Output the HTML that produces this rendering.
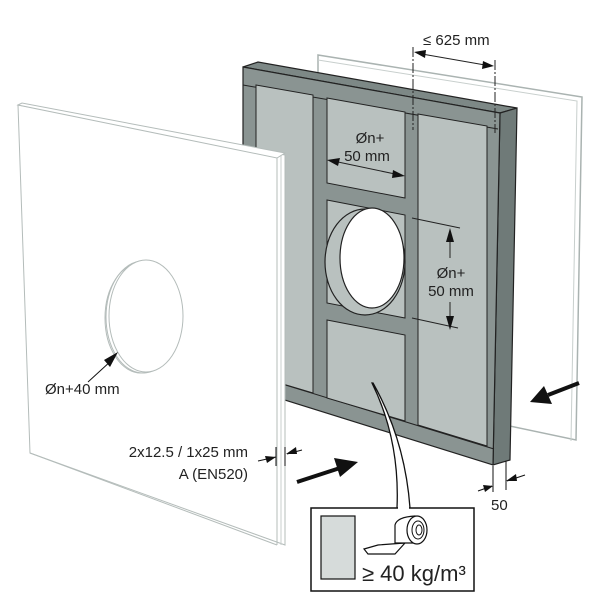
<!DOCTYPE html>
<html><head><meta charset="utf-8"><style>html,body{margin:0;padding:0;background:#fff}svg{display:block}text{font-family:"Liberation Sans",sans-serif;fill:#222}</style></head>
<body>
<svg width="600" height="600" viewBox="0 0 600 600" xmlns="http://www.w3.org/2000/svg">
<!-- back board -->
<polygon points="318,55 582,97 576,440 505,425 318,400" fill="#fff" stroke="#aab3b1" stroke-width="1.5"/>
<polyline points="318,60 577,101 571,441" fill="none" stroke="#c8cfcd" stroke-width="1"/>
<!-- frame -->
<polygon points="243,67 258,62 517,108 500,113" fill="#7d8886" stroke="#222" stroke-width="1.2"/>
<polygon points="500,113 517,108 510,460 493,465" fill="#6f7a78" stroke="#222" stroke-width="1.2"/>
<polygon points="243,67 500,113 493,465 243,387" fill="#8a9492" stroke="#222" stroke-width="1.2"/>
<line x1="243" y1="85" x2="498" y2="129" stroke="#222" stroke-width="1"/>
<line x1="243" y1="372" x2="494" y2="449" stroke="#222" stroke-width="1"/>
<g fill="#b9c1bf" stroke="#222" stroke-width="1">
<polygon points="256,85 313,95 313,393 256,376"/>
<polygon points="327,98 405,112 405,198 327,183"/>
<polygon points="327,200 405,215 405,318 327,303"/>
<polygon points="327,320 405,335 405,421 327,398"/>
<polygon points="418,114 487,126 487,446 418,425"/>
</g>
<ellipse cx="365" cy="262" rx="40" ry="53" fill="#b9c1bf" stroke="#222" stroke-width="1.2"/>
<ellipse cx="372" cy="258" rx="32" ry="50" fill="#fff" stroke="#222" stroke-width="1.2"/>
<!-- dims on frame -->
<g stroke="#222" stroke-width="1" fill="none">
<line x1="413" y1="47" x2="413" y2="130" stroke-dasharray="10,2,2,2"/>
<line x1="495" y1="60" x2="495" y2="133" stroke-dasharray="10,2,2,2"/>
<line x1="422" y1="54" x2="485" y2="65"/>
<line x1="338" y1="162" x2="395" y2="174"/>
<line x1="412" y1="218" x2="460" y2="228"/>
<line x1="412" y1="318" x2="458" y2="328"/>
<line x1="450" y1="240" x2="450" y2="258"/>
<line x1="450" y1="302" x2="450" y2="325"/>
</g>
<g fill="#111">
<polygon points="414,52 426,50 425,58"/>
<polygon points="494,66 483,61 482,69"/>
<polygon points="327,160 340,158 338,166"/>
<polygon points="405,176 393,170 392,178"/>
<polygon points="450,228 446,242 454,242"/>
<polygon points="450,330 446,316 454,316"/>
</g>
<text x="423" y="45" font-size="15">≤ 625 mm</text>
<text x="370" y="143" font-size="15" text-anchor="middle">Øn+</text>
<text x="367" y="161" font-size="15" text-anchor="middle">50 mm</text>
<text x="451" y="278" font-size="15" text-anchor="middle">Øn+</text>
<text x="451" y="296" font-size="15" text-anchor="middle">50 mm</text>
<!-- front board -->
<polygon points="18,105 285,155 285,545 30,453" fill="#fff" stroke="#b4bcba" stroke-width="1"/>
<polygon points="18,105 22,103 285,153 277,158" fill="#fff" stroke="#b4bcba" stroke-width="1"/>
<line x1="277" y1="158" x2="277" y2="545" stroke="#b4bcba"/>
<line x1="281" y1="156" x2="281" y2="545" stroke="#c8cfcd"/>
<line x1="30" y1="453" x2="277" y2="545" stroke="#b4bcba"/>
<ellipse cx="141" cy="318" rx="36" ry="55" fill="none" stroke="#b4bcba"/>
<ellipse cx="143" cy="317" rx="37" ry="56" fill="none" stroke="#b4bcba"/>
<ellipse cx="146" cy="316" rx="37" ry="56" fill="#fff" stroke="#b4bcba"/>
<!-- labels front -->
<line x1="88" y1="382" x2="112" y2="360" stroke="#111"/>
<polygon points="118,352 104,360 110,367" fill="#111"/>
<text x="45" y="394" font-size="15">Øn+40 mm</text>
<text x="248" y="457" font-size="15" text-anchor="end">2x12.5 / 1x25 mm</text>
<text x="248" y="479" font-size="15" text-anchor="end">A (EN520)</text>
<g stroke="#111" fill="none"><line x1="258" y1="461" x2="276" y2="457"/><line x1="287" y1="454" x2="302" y2="450"/><line x1="276" y1="447" x2="276" y2="466"/><line x1="285" y1="447" x2="285" y2="466"/>
<line x1="493" y1="466" x2="493" y2="492"/><line x1="506" y1="461" x2="506" y2="490"/><line x1="478" y1="491" x2="492" y2="486"/><line x1="507" y1="481" x2="525" y2="475"/></g>
<polygon points="276,457 265,456 267,463" fill="#111"/>
<polygon points="286,454 296,447 297,454" fill="#111"/>
<polygon points="493,486 483,485 485,492" fill="#111"/>
<polygon points="506,481 516,474 517,481" fill="#111"/>
<text x="491" y="510" font-size="15">50</text>
<!-- big arrows -->
<line x1="297" y1="482" x2="340" y2="468" stroke="#111" stroke-width="4"/>
<polygon points="358,462 334,458 340,477" fill="#111"/>
<line x1="579" y1="383" x2="548" y2="395" stroke="#111" stroke-width="4"/>
<polygon points="530,402 544,386 552,404" fill="#111"/>
<!-- callout -->
<path d="M372,383 Q400,440 397,508 L410,508 Q405,440 373,383 Z" fill="#fff" stroke="#111" stroke-width="1.3"/>
<rect x="311" y="508" width="163" height="83" fill="#fff" stroke="#111" stroke-width="1.5"/>
<line x1="398" y1="508" x2="409" y2="508" stroke="#fff" stroke-width="2"/>
<rect x="321" y="516" width="34" height="63" fill="#d6dbda" stroke="#111" stroke-width="1.2"/>
<polygon points="364,549 378,545 405,543 395,554 368,554" fill="#fff" stroke="#111" stroke-width="1.2"/>
<path d="M395,543 L395,525 Q397,517 415,516 L418,543 Z" fill="#fff" stroke="#111" stroke-width="1.2"/>
<ellipse cx="417" cy="530" rx="10" ry="14" fill="#fff" stroke="#111" stroke-width="1.2"/>
<ellipse cx="418" cy="530" rx="6" ry="9" fill="none" stroke="#111"/>
<ellipse cx="419" cy="530" rx="3" ry="5" fill="none" stroke="#111"/>
<text x="362" y="581" font-size="22">≥ 40 kg/m³</text>
</svg>
</body></html>
